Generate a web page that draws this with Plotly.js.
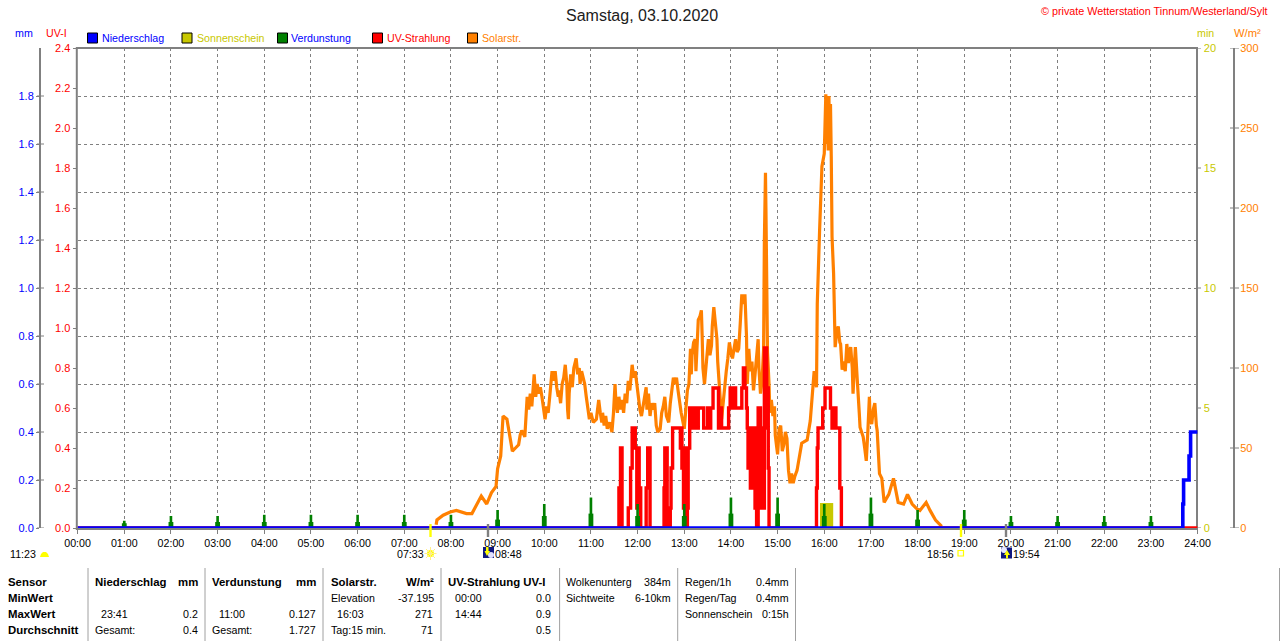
<!DOCTYPE html>
<html><head><meta charset="utf-8">
<script src="https://cdn.plot.ly/plotly-3.0.1.min.js"></script>
<style>html,body{margin:0;padding:0;background:#fff}#c{width:1280px;height:641px}</style>
</head><body><div id="c"></div>
<script>
// ---------- data (time in minutes since midnight) ----------
const hourLabels=["00:00","01:00","02:00","03:00","04:00","05:00","06:00","07:00","08:00","09:00","10:00","11:00","12:00","13:00","14:00","15:00","16:00","17:00","18:00","19:00","20:00","21:00","22:00","23:00","24:00"];
const hourTicks=[0,60,120,180,240,300,360,420,480,540,600,660,720,780,840,900,960,1020,1080,1140,1200,1260,1320,1380,1440];

// solar radiation as [minute, W/m2]
const solarMorning=[[461,2],[462,5],[470,8],[479,10],[487,11],[494,10],[500,9],[507,9],[513,15],[519,20],[526,15],[532,22],[538,26],[540,37],[544,45],[547,70],[552,68],[556,57],[559,48],[563,50],[567,52],[569,58],[571,61],[575,57],
[578,82],[580,74],[582,84],[584,76],[587,96],[589,82],[591,90],[593,84],[595,88],[597,82],[599,74],[601,68],[603,76],[605,72],[607,82],[608,88],[610,98],[612,92],[614,98],[616,88],[618,82],[619,86],[621,78],[623,90],[625,94],[627,102],[629,90],[630,74],[631,68],[632,84],[634,96],[636,88],[638,100],[641,106],[643,96],[645,100],[646,90],[648,98],[650,94],[652,90],[654,82],[656,74],[658,68],[660,72],[663,66],[667,68],[670,80],[672,72],[674,66],[675,72],[677,64],[679,70],[681,62],[684,66],[687,60]];
const solarMidday=[[689,72],[691,90],[692,80],[694,72],[696,82],[698,74],[700,80],[702,72],[704,84],[706,78],[708,92],[710,86],[713,102],[715,94],[717,98],[719,88],[721,82],[723,74],[725,70],[727,76],[729,84],[731,88],[732,74],[734,84],[736,70],[738,78],[740,74],[742,78],[744,64],[746,60],[749,62],[751,72],[753,76],[755,82],[757,70],[760,66],[762,78],[764,86],[766,94],[768,90],[770,94],[772,86],[774,78],[776,72],
[780,62],[782,72],[784,86],[786,90],[788,112],[789,96],[790,108],[792,116],[794,118],[795,98],[796,110],[797,124],[798,130],[800,132],[802,136],[803,120],[804,100],[806,90],[807,96],[809,108],[811,118],[813,108],[815,114],[816,126],[818,138],[820,128],[822,118],[823,104],[825,90],[827,72],[828,68],[830,78],[832,90],[834,98],[836,106],[838,116],[840,110],[842,106],[844,112],[846,118],[848,110],[850,112],[852,128],[854,146],[856,140],[858,146],[860,120],[861,90],[863,112],[865,98],[867,104],[869,86],[871,96],[873,106],[875,118],[876,100],[878,84],[880,92],[882,112],[883,180],[884.4,222],[885,200],[886,150],[887,110],[889,90],[890,72],[892,80],[894,70],[896,76],[897,58],[899,50],[900,46],[902,62],[904,64],[906,48],[908,52],[910,60],[912,56],[914,36],[916,28],[918,34],[920,28],[922,32],[925,36]];
const solarAfternoon=[[931,53],[938,55],[942,67],[947,98],[950,88],[951,140],[954,186],[957,226],[960,234],[961,253],[962,271],[963,240],[964,268],[965,236],[966,270],[967,240],[968,265],[969,232],[970,182],[972,159],[974,113],[976,122],[978,126],[980,116],[981,115],[983,99],[985,104],[987,98],[989,115],[991,103],[992,110],[994,113],[996,100],[997,84],[999,100],[1000,113],[1002,96],[1003,84],[1005,72],[1006,63],[1010,57],[1012,50],[1014,42],[1016,60],[1018,82],[1019,68],[1021,65],[1023,74],[1025,78],[1027,64],[1028,61],[1031,34],[1034,31],[1037,16],[1043,21],[1049,31],[1055,16],[1062,15],[1067,21],[1073,15],[1079,12],[1083,11],[1091,16],[1096,11],[1103,5],[1111,1]];

const uvT=[0,696,698,700,708,711,713,717,719,720,722,724,731,733,736,754,755,758,762,763,765,775,776,777,779,780,781,784,785,787,791,792,794,798,805,810,813,814,817,824,826,828,837,839,841,844,846,854,856,858,860,861,862,863,865,866,867,868,869,870,871,872,873,875,876,877,878,879,880,881,883,886,887,888,889,950,951,952,958,961,968,970,971,972,974,975,980,982,1440];
const uvV=[0,0.2,0.4,0,0.1,0.3,0.5,0.4,0.1,0.4,0.2,0,0.2,0.4,0,0.2,0.4,0,0.1,0.3,0.5,0.4,0.5,0.3,0.1,0.4,0,0.1,0.4,0.6,0.5,0.6,0.5,0.6,0.5,0.6,0.5,0.6,0.7,0.5,0.6,0.5,0.6,0.7,0.6,0.7,0.6,0.7,0.8,0.7,0.6,0.5,0.3,0.5,0.2,0.4,0.3,0.5,0.2,0.5,0.1,0.5,0,0.6,0.3,0.6,0.1,0.5,0.2,0.1,0.9,0.5,0.7,0.3,0,0.2,0.4,0.5,0.6,0.7,0.6,0.5,0.6,0.5,0.6,0.5,0.2,0,0];

const rainT=[0,1421,1422,1429,1431,1440];
const rainV=[0,0.1,0.2,0.3,0.4,0.4];

const evapT=[60,120,180,240,300,360,420,480,540,600,660,720,780,840,900,960,1020,1080,1140,1200,1260,1320,1380];
const evapPeak=[0.03,0.05,0.05,0.055,0.055,0.055,0.055,0.055,0.075,0.1,0.127,0.1,0.1,0.127,0.127,0.1,0.127,0.075,0.075,0.05,0.05,0.05,0.05];
const evapBase=[0.02,0.025,0.025,0.025,0.025,0.025,0.025,0.025,0.035,0.05,0.06,0.05,0.05,0.06,0.06,0.05,0.06,0.035,0.035,0.025,0.025,0.025,0.025];

const sunT=[963];
const sunV=[1.04];

const mmTicks=[0,0.2,0.4,0.6,0.8,1,1.2,1.4,1.6,1.8];
const uvTicks=[0,0.2,0.4,0.6,0.8,1,1.2,1.4,1.6,1.8,2,2.2,2.4];
const minTicks=[0,5,10,15,20];
const wTicks=[0,50,100,150,200,250,300];

const legendNames=["Niederschlag","Sonnenschein","Verdunstung","UV-Strahlung","Solarstr."];
const tableLeft=[
 ["Sensor",8,582,1],["MinWert",8,598,1],["MaxWert",8,614,1],["Durchschnitt",8,630,1],
 ["Niederschlag",94.5,582,1],["23:41",100.5,614,0],["Gesamt:",94.5,630,0],
 ["Verdunstung",212,582,1],["11:00",218.5,614,0],["Gesamt:",212,630,0],
 ["Solarstr.",330.5,582,1],["Elevation",330.5,598,0],["16:03",336.5,614,0],["Tag:15 min.",330.5,630,0],
 ["UV-Strahlung UV-I",448,582,1],["00:00",454.5,598,0],["14:44",454.5,614,0],
 ["Wolkenunterg",566,582,0],["Sichtweite",566,598,0],
 ["Regen/1h",684.5,582,0],["Regen/Tag",684.5,598,0],["Sonnenschein",684.5,614,0]];
const tableRight=[
 ["mm",198,582,1],["0.2",198,614,0],["0.4",198,630,0],
 ["mm",316,582,1],["0.127",316,614,0],["1.727",316,630,0],
 ["W/m²",434,582,1],["-37.195",434,598,0],["271",433,614,0],["71",433,630,0],
 ["0.0",551,598,0],["0.9",551,614,0],["0.5",551,630,0],
 ["384m",671,582,0],["6-10km",671,598,0],
 ["0.4mm",789,582,0],["0.4mm",789,598,0],["0:15h",789,614,0]];
const astroLabels=["11:23","07:33","08:48","18:56","19:54"];

// ---------- helpers ----------
const W=1280,H=641,FONT='"Liberation Sans",Arial,sans-serif';
const L=77.6,R=1197.6,T=48,B=528;
const fx=x=>x/W, fy=y=>1-y/H;
const BLUE='#0000ff',RED='#ff0000',OR='#ff8000',YE='#c8c800',GN='#008000',GR='#808080',NONE='rgba(0,0,0,0)';
const ann=[],sh=[];
function txt(s,x,y,color,size,anchor,bold){ann.push({text:bold?'<b>'+s+'</b>':s,x:fx(x),y:fy(y),xref:'paper',yref:'paper',xanchor:anchor||'left',yanchor:'middle',showarrow:false,borderpad:0,borderwidth:0,font:{family:FONT,size:size||10.67,color:color||'#000'}});}
function ln(x0,y0,x1,y1,c,w,layer){sh.push({type:'line',xref:'paper',yref:'paper',x0:fx(x0),x1:fx(x1),y0:fy(y0),y1:fy(y1),line:{color:c,width:w},layer:layer||'below'});}
function box(x0,y0,x1,y1,fill,lc,lw){sh.push({type:'rect',xref:'paper',yref:'paper',x0:fx(x0),x1:fx(x1),y0:fy(y0),y1:fy(y1),fillcolor:fill,line:{color:lc||fill,width:lw===undefined?0:lw},layer:'above'});}
function circ(x0,y0,x1,y1,fill,lc,lw){sh.push({type:'circle',xref:'paper',yref:'paper',x0:fx(x0),x1:fx(x1),y0:fy(y0),y1:fy(y1),fillcolor:fill,line:{color:lc||fill,width:lw===undefined?0:lw},layer:'above'});}
function poly(pts,fill){sh.push({type:'path',xref:'paper',yref:'paper',path:'M'+pts.map(p=>fx(p[0])+','+fy(p[1])).join('L')+'Z',fillcolor:fill,line:{width:0},layer:'above'});}

// frame
ln(76,48,1198,48,GR,2);
ln(76.8,47,76.8,530,GR,2);
ln(1197,47,1197,530,GR,2);
ln(76,529,1198,529,GR,2);

// ticks of the free axes that reach across the axis line
mmTicks.forEach(v=>sh.push({type:'line',xref:'paper',yref:'y4',x0:fx(37),x1:fx(44),y0:v,y1:v,line:{color:GR,width:1},layer:'below'}));
wTicks.forEach(v=>sh.push({type:'line',xref:'paper',yref:'y2',x0:fx(1230),x1:fx(1239),y0:v,y1:v,line:{color:GR,width:1},layer:'below'}));
minTicks.forEach(v=>sh.push({type:'line',xref:'paper',yref:'y',x0:fx(1198),x1:fx(1201),y0:v,y1:v,line:{color:GR,width:1},layer:'below'}));

// titles
txt("Samstag, 03.10.2020",642,15,'#202020',16,'center');
txt("© private Wetterstation Tinnum/Westerland/Sylt",1268,11,RED,10.8,'right');
txt("mm",15,33,BLUE,10.67);
txt("UV-I",46,33,RED,10.67);
txt("min",1197,33,YE,10.67);
txt("W/m²",1234,33,'#ff8000',11.2);

// legend
const swX=[87.5,182,277.5,372.5,467.5],tX=[102,197,291,387,481.5];
const swC=[BLUE,YE,GN,RED,OR],tC=[BLUE,YE,BLUE,RED,OR];
legendNames.forEach((n,i)=>{box(swX[i],33,swX[i]+10,43,swC[i],'#000',1);txt(n,tX[i],38,tC[i],10.67);});

// table
tableLeft.forEach(r=>txt(r[0],r[1],r[2],'#000',r[3]?11.4:10.67,'left',r[3]));
tableRight.forEach(r=>txt(r[0],r[1],r[2],'#000',r[3]?11.4:10.67,'right',r[3]));
[88,205,323,441,559.6,677.7,795.5].forEach(x=>ln(x,568,x,641,'#a0a0a0',1));
ln(1279.5,568,1279.5,641,'#a0a0a0',1);

// sun and moon marks
txt(astroLabels[0],10,553.5,'#000',10.67);
poly([[40,557],[41,554],[43,552],[46,552],[48,554],[49,557]],'#ffff00');
txt(astroLabels[1],397,553.5,'#000',10.67);
circ(427,550,434,557,'#ffff00');
[[430.5,547,430.5,560],[424.5,553.5,436.5,553.5],[426,549,435,558],[435,549,426,558]].forEach(a=>ln(a[0],a[1],a[2],a[3],'#ffee88',1,'above'));
ln(430.5,524,430.5,537,'#ffff00',2.4,'above');
box(483,547,494,558,'#101880');circ(488,552,494,558,'#e0e0ff');poly([[486,547],[488.5,547],[488.5,551],[490,551],[487,556],[484.5,551],[486,551]],'#ffff00');
txt(astroLabels[2],495,553.5,'#000',10.67);
ln(488,524,488,537,GR,2.4,'above');
txt(astroLabels[3],927,553.5,'#000',10.67);
box(958,550.5,963.5,556,'#fffff0','#ffff00',1.2);
ln(961,524,961,537,'#ffff00',2.4,'above');
box(1001,547.5,1012,558.5,'#101880');circ(1001,547,1007,553,'#e8e8ff');poly([[1006,558.5],[1008,558.5],[1008,555],[1010,555],[1007,550],[1004,555],[1006,555]],'#ffff00');
txt(astroLabels[4],1013,553.5,'#000',10.67);
ln(1006,524,1006,537,GR,2.4,'above');

// ---------- traces, bottom to top ----------
const solarAll=solarMorning.concat(solarMidday,solarAfternoon);
const traces=[
 {type:'bar',name:'Sonnenschein',x:sunT,y:sunV,width:[17],marker:{color:YE,line:{width:0}},xaxis:'x',yaxis:'y',hoverinfo:'skip',showlegend:false},
 {type:'scatter',mode:'lines',name:'Solarstr.',x:solarAll.map(p=>p[0]),y:solarAll.map(p=>p[1]),line:{color:OR,width:3.2,shape:'linear'},xaxis:'x',yaxis:'y2',hoverinfo:'skip',showlegend:false},
 {type:'scatter',mode:'lines',name:'UV-Strahlung',x:uvT,y:uvV,line:{color:RED,width:3.4,shape:'hv'},xaxis:'x',yaxis:'y3',hoverinfo:'skip',showlegend:false},
 {type:'bar',name:'Verdunstung',x:evapT,y:evapBase,width:6.2,marker:{color:GN,line:{width:0}},xaxis:'x',yaxis:'y4',hoverinfo:'skip',showlegend:false},
 {type:'bar',name:'Verdunstung',x:evapT,y:evapPeak,width:3.4,marker:{color:GN,line:{width:0}},xaxis:'x',yaxis:'y4',hoverinfo:'skip',showlegend:false},
 {type:'scatter',mode:'lines',name:'Niederschlag',x:rainT,y:rainV,line:{color:BLUE,width:3.6,shape:'hv'},xaxis:'x',yaxis:'y4',hoverinfo:'skip',showlegend:false}
];

const yDom=[fy(B),fy(T)];
const tf=(c)=>({family:FONT,size:11,color:c});
const layout={
 width:W,height:H,autosize:false,margin:{l:0,r:0,t:0,b:0,pad:0},
 paper_bgcolor:'#fff',plot_bgcolor:'rgba(0,0,0,0)',showlegend:false,barmode:'overlay',
 xaxis:{domain:[fx(L),fx(R)],range:[0,1440],tickmode:'array',tickvals:hourTicks,ticktext:hourLabels,ticks:'outside',ticklen:5,tickcolor:GR,tickwidth:1,
   tickfont:{family:FONT,size:10.67,color:'#000'},showgrid:true,gridcolor:GR,gridwidth:1,griddash:'3px,3px',zeroline:false,showline:false,anchor:'y',tickangle:0},
 yaxis:{domain:yDom,range:[0,20],side:'right',anchor:'free',position:fx(R),tickmode:'array',tickvals:minTicks,ticks:'outside',ticklen:3,tickcolor:NONE,tickfont:tf(YE),showgrid:false,zeroline:false,showline:false},
 yaxis2:{domain:yDom,range:[0,300],side:'right',overlaying:'y',anchor:'free',position:fx(1234),tickmode:'array',tickvals:wTicks,ticks:'outside',ticklen:3,tickcolor:NONE,tickfont:tf(OR),showgrid:false,zeroline:false,showline:true,linecolor:GR,linewidth:2},
 yaxis3:{domain:yDom,range:[0,2.4],side:'left',overlaying:'y',anchor:'free',position:fx(L-2),tickmode:'array',tickvals:uvTicks,tickformat:'.1f',ticks:'outside',ticklen:3,tickcolor:GR,tickfont:tf(RED),showgrid:false,zeroline:false,showline:false},
 yaxis4:{domain:yDom,range:[0,2],side:'left',overlaying:'y',anchor:'free',position:fx(40),tickmode:'array',tickvals:mmTicks,tickformat:'.1f',ticks:'outside',ticklen:3,tickcolor:GR,tickfont:tf(BLUE),showgrid:true,gridcolor:GR,gridwidth:1,griddash:'3px,3px',zeroline:false,showline:true,linecolor:GR,linewidth:2},
 shapes:sh,annotations:ann
};
Plotly.newPlot('c',traces,layout,{displayModeBar:false,staticPlot:true});
</script></body></html>
